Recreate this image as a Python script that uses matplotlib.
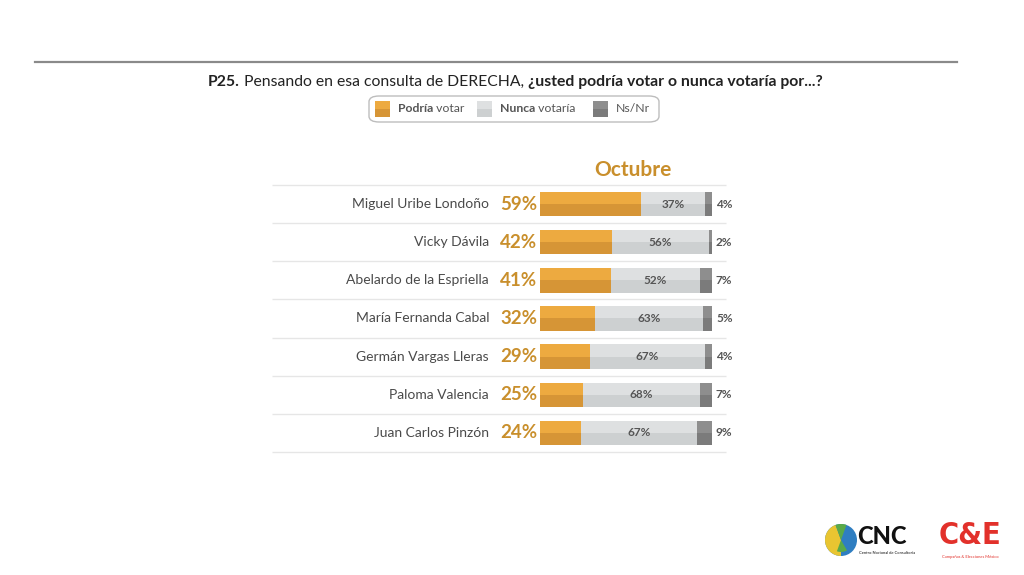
import matplotlib
matplotlib.use("Agg")
import matplotlib.pyplot as plt
from matplotlib.patches import FancyBboxPatch, Wedge, Circle, Rectangle

plt.rcParams["font.family"] = ["Lato", "DejaVu Sans"]

candidates = [
    "Miguel Uribe Londoño",
    "Vicky Dávila",
    "Abelardo de la Espriella",
    "María Fernanda Cabal",
    "Germán Vargas Lleras",
    "Paloma Valencia",
    "Juan Carlos Pinzón",
]
podria = [59, 42, 41, 32, 29, 25, 24]
nunca = [37, 56, 52, 63, 67, 68, 67]
nsnr = [4, 2, 7, 5, 4, 7, 9]

ORANGE_TOP = "#EDAA40"
ORANGE_BOT = "#D69536"
GRAY_TOP = "#DEE0E1"
GRAY_BOT = "#CDD0D1"
DARK_TOP = "#8E8E8E"
DARK_BOT = "#7B7B7B"
LABEL_ORANGE = "#C98F2C"
TEXT = "#4A4A4A"

W, H = 1024, 575
fig = plt.figure(figsize=(W / 100, H / 100), dpi=100)


def fx(px):
    return px / W


def fy(py):
    return 1 - py / H


def seq_text(parts, x, y, size, color, ha="center"):
    """Draw text pieces with different weights next to each other."""
    r = fig.canvas.get_renderer()
    widths = []
    for s, w in parts:
        t = fig.text(0, 0, s, fontsize=size, fontweight=w)
        widths.append(t.get_window_extent(r).width)
        t.remove()
    total = sum(widths)
    start = x - total / 2 if ha == "center" else x
    for (s, w), wd in zip(parts, widths):
        fig.text(fx(start), fy(y), s, fontsize=size, fontweight=w,
                 color=color, va="center", ha="left")
        start += wd


# top rule
fig.add_artist(plt.Line2D([fx(35), fx(957)], [fy(62), fy(62)],
                          color="#8A8A8A", lw=1.6))

# title
seq_text([("P25.", "bold"),
          (" Pensando en esa consulta de DERECHA, ", "normal"),
          ("¿usted podría votar o nunca votaría por...?", "bold")],
         515, 82, 11.3, "#222222")

# legend box
fig.add_artist(FancyBboxPatch((fx(369), fy(122)), fx(290), 26 / H,
                              boxstyle="round,pad=0,rounding_size=0.01",
                              transform=fig.transFigure, fc="white",
                              ec="#BDBDBD", lw=1))
legend_items = [
    (375, ORANGE_TOP, ORANGE_BOT, [("Podría", "bold"), (" votar", "normal")]),
    (477, GRAY_TOP, GRAY_BOT, [("Nunca", "bold"), (" votaría", "normal")]),
    (593, DARK_TOP, DARK_BOT, [("Ns/Nr", "normal")]),
]
for x0, ct, cb, parts in legend_items:
    fig.add_artist(Rectangle((fx(x0), fy(109)), fx(15), 8 / H,
                             transform=fig.transFigure, fc=ct, ec="none"))
    fig.add_artist(Rectangle((fx(x0), fy(117)), fx(15), 8 / H,
                             transform=fig.transFigure, fc=cb, ec="none"))
    seq_text(parts, x0 + 23, 109, 8.8, "#555555", ha="left")

# bar axes: 0..100 maps to px 540..712, rows between separators 184..451
ax = fig.add_axes([fx(540), fy(452), fx(172), (452 - 185) / H])
ax.set_xlim(0, 100)
ax.set_ylim(len(candidates) - 0.5, -0.5)
ax.axis("off")

bh = 0.64
ys = list(range(len(candidates)))
left_n = [p for p in podria]
left_s = [p + n for p, n in zip(podria, nunca)]
for vals, lefts, ct, cb in [
    (podria, [0] * len(podria), ORANGE_TOP, ORANGE_BOT),
    (nunca, left_n, GRAY_TOP, GRAY_BOT),
    (nsnr, left_s, DARK_TOP, DARK_BOT),
]:
    ax.barh([y - bh / 4 for y in ys], vals, left=lefts, height=bh / 2,
            color=ct, edgecolor="none")
    ax.barh([y + bh / 4 for y in ys], vals, left=lefts, height=bh / 2,
            color=cb, edgecolor="none")

px2x = 100 / 172
for i, name in enumerate(candidates):
    ax.text(-51 * px2x, i, name, ha="right", va="center", fontsize=10,
            color=TEXT, clip_on=False)
    ax.text(-2.5 * px2x, i, f"{podria[i]}%", ha="right", va="center",
            fontsize=13.5, fontweight="bold", color=LABEL_ORANGE, clip_on=False)
    ax.text(podria[i] + nunca[i] / 2, i, f"{nunca[i]}%", ha="center",
            va="center", fontsize=8.5, fontweight="bold", color="#555555")
    ax.text(100 + 4 * px2x, i, f"{nsnr[i]}%", ha="left", va="center",
            fontsize=8.5, fontweight="bold", color="#555555", clip_on=False)

# separators
for k in range(len(candidates) + 1):
    ax.hlines(k - 0.5, -268 * px2x, 186 * px2x, color="#E6E6E6", lw=1,
              clip_on=False)

ax.text(93 * px2x, -0.5 - 15 / 38.14, "Octubre", ha="center", va="center",
        fontsize=15, fontweight="bold", color=LABEL_ORANGE, clip_on=False)

# logos (simple approximations)
lax = fig.add_axes([0, 0, 1, 1], zorder=-1)
lax.set_xlim(0, W)
lax.set_ylim(H, 0)
lax.axis("off")
lax.set_aspect("equal")
lax.add_patch(Circle((841, 540), 16, fc="#2F7EC1", ec="none"))
lax.add_patch(Wedge((841, 540), 16, 90, 250, fc="#E9C531", ec="none"))
lax.add_patch(Wedge((841, 540), 16, 250, 290, fc="#5AAA48", ec="none"))
lax.add_patch(Wedge((841, 540), 12, 60, 110, fc="#5AAA48", ec="none"))
lax.text(857, 537, "CNC", fontsize=17, fontweight="black", color="#111111",
         va="center", ha="left")
lax.text(859, 553, "Centro Nacional de Consultoría", fontsize=3,
         color="#111111", va="center", ha="left")
lax.text(970, 536, "C&E", fontsize=22, fontweight="bold", color="#E2312B",
         va="center", ha="center", family="DejaVu Sans",
         fontstretch="condensed")
lax.text(970, 557, "Campañas & Elecciones México", fontsize=3,
         color="#E2312B", va="center", ha="center")

fig.savefig("out.png", dpi=100)
